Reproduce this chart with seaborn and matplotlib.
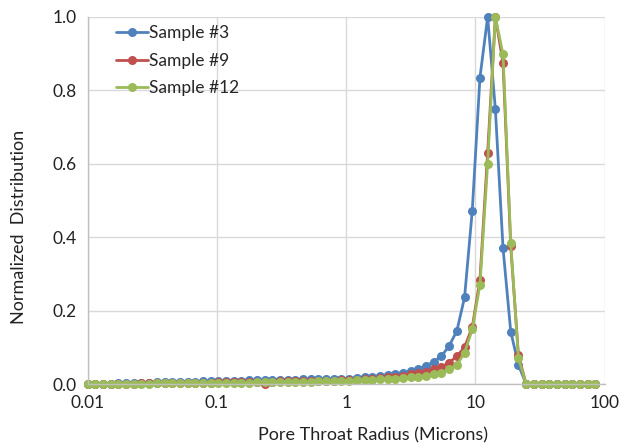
import numpy as np
import pandas as pd
import matplotlib
matplotlib.use("Agg")
import matplotlib.pyplot as plt
import seaborn as sns

# pore throat radius bins (microns), 67 log-spaced points
radius = 0.01 * 10 ** (np.arange(67) * 0.0595)

sample3 = [0.0, 0.0, 0.001, 0.001, 0.002, 0.002, 0.003,
           0.004, 0.004, 0.005, 0.005, 0.005, 0.006, 0.006, 0.006, 0.007, 0.007,
           0.008, 0.008, 0.009, 0.009, 0.010, 0.010, 0.011, 0.011, 0.012, 0.012,
           0.012, 0.013, 0.013, 0.013, 0.014, 0.014,
           0.014, 0.015, 0.017, 0.019, 0.020, 0.023, 0.025, 0.028, 0.031, 0.035,
           0.041, 0.049, 0.061, 0.076, 0.104, 0.145,
           0.236, 0.472, 0.835, 1.0, 0.75, 0.37, 0.143, 0.052,
           0, 0, 0, 0, 0, 0, 0, 0, 0, 0]

sample9 = [0.0, 0.0, 0.0, 0.0, 0.001, 0.001, 0.001, 0.002, 0.002, 0.002,
           0.003, 0.003, 0.003, 0.003, 0.004, 0.004, 0.004,
           0.005, 0.005, 0.005, 0.006, 0.006, 0.006, 0.0, 0.006, 0.007, 0.007,
           0.007, 0.008, 0.008, 0.008, 0.009, 0.009,
           0.010, 0.011, 0.012, 0.013, 0.014, 0.016, 0.018, 0.020, 0.023, 0.026,
           0.030, 0.034, 0.040, 0.047, 0.058, 0.076,
           0.100, 0.155, 0.284, 0.63, 1.0, 0.875, 0.376, 0.079,
           0, 0, 0, 0, 0, 0, 0, 0, 0, 0]

sample12 = [0.0, 0.0, 0.0, 0.0, 0.0, 0.001, 0.001, 0.001, 0.001, 0.002,
            0.002, 0.002, 0.002, 0.003, 0.003, 0.003, 0.003,
            0.003, 0.004, 0.004, 0.004, 0.004, 0.005, 0.005, 0.005, 0.005, 0.006,
            0.006, 0.006, 0.006, 0.007, 0.007, 0.007,
            0.008, 0.009, 0.010, 0.011, 0.012, 0.013, 0.014, 0.015, 0.017, 0.018,
            0.020, 0.022, 0.026, 0.031, 0.040, 0.052,
            0.085, 0.149, 0.27, 0.60, 1.0, 0.898, 0.385, 0.072,
            0, 0, 0, 0, 0, 0, 0, 0, 0, 0]

labels = ["Sample #3", "Sample #9", "Sample #12"]
colors = ["#4F81BD", "#C0504D", "#9BBB59"]

df = pd.concat([
    pd.DataFrame({"radius": radius, "dist": vals, "sample": lab})
    for lab, vals in zip(labels, [sample3, sample9, sample12])
])

sns.set_style("whitegrid")
plt.rcParams["font.family"] = ["Lato", "DejaVu Sans"]

fig = plt.figure(figsize=(6.3, 4.46), dpi=100)
ax = fig.add_axes([0.139, 0.139, 0.821, 0.823])

sns.lineplot(data=df, x="radius", y="dist", hue="sample", hue_order=labels,
             palette=colors, marker="o", markersize=6.5, markeredgewidth=0,
             linewidth=2.0, ax=ax, sort=False, clip_on=False)

ax.set_xscale("log")
ax.set_xlim(0.01, 100)
ax.set_ylim(0, 1.0)
ax.set_xticks([0.01, 0.1, 1, 10, 100])
ax.set_xticklabels(["0.01", "0.1", "1", "10", "100"])
ax.set_yticks(np.arange(0, 1.01, 0.2))
ax.set_yticklabels([f"{v:.1f}" for v in np.arange(0, 1.01, 0.2)])
ax.minorticks_off()
ax.grid(True, color="#d9d9d9", linewidth=1.0)
ax.tick_params(axis="both", length=0, labelsize=12.5, colors="#222222", pad=8)

for side in ["top", "right"]:
    ax.spines[side].set_visible(False)
for side in ["left", "bottom"]:
    ax.spines[side].set_color("#bfbfbf")
    ax.spines[side].set_linewidth(1.0)

ax.set_xlabel("Pore Throat Radius (Microns)", fontsize=13, color="#222222")
ax.set_ylabel("Normalized  Distribution", fontsize=13, color="#222222")
ax.xaxis.set_label_coords(0.552, -0.118)
ax.yaxis.set_label_coords(-0.117, 0.428)

ax.legend(loc="upper left", bbox_to_anchor=(0.032, 1.01), frameon=False,
          fontsize=12.5, handlelength=1.8, handletextpad=0.1, labelspacing=0.65,
          borderpad=0.2, title=None)

fig.savefig("out.png", dpi=100)
